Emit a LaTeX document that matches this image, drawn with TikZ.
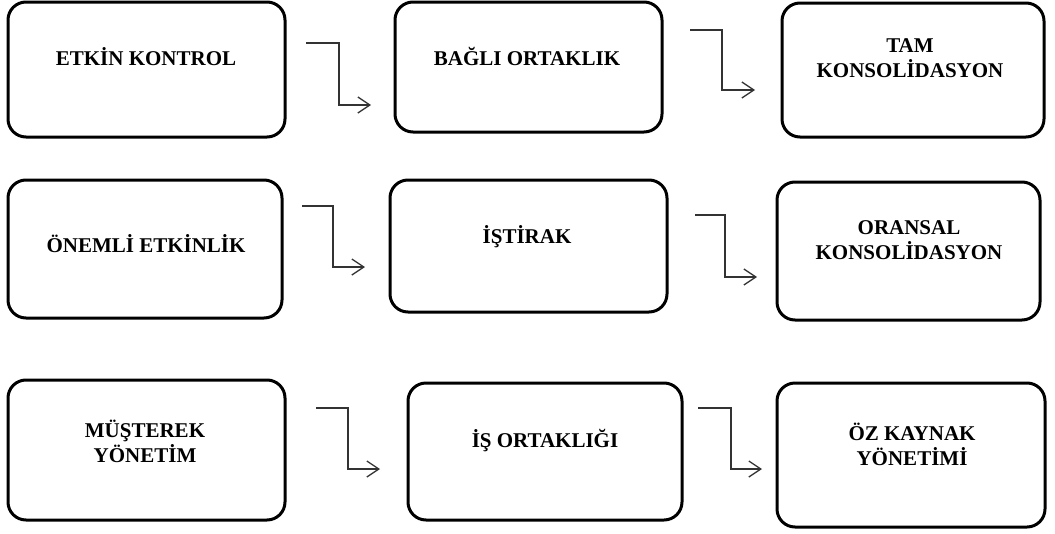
\documentclass[tikz,border=0pt]{standalone}
\usepackage{fontspec}
\setmainfont{Liberation Serif}
\usetikzlibrary{arrows.meta}
\begin{document}
\begin{tikzpicture}[x=1pt,y=-1pt,
  box/.style={draw=black,line width=3pt,rounded corners=18pt,inner sep=0pt,fill=white},
  lbl/.style={font=\bfseries\fontsize{21}{25}\selectfont,align=center,inner sep=0pt,anchor=center},
  conn/.style={draw=black!80,line width=1.3pt,-{Straight Barb[length=12pt,width=16pt,line width=1.3pt]}}]
\useasboundingbox (0,0) rectangle (1055,533);
% boxes
\node[box,minimum width=277pt,minimum height=135pt] (b1) at (146.5,69.5) {};
\node[box,minimum width=267pt,minimum height=130pt] (b2) at (528.5,67) {};
\node[box,minimum width=262pt,minimum height=134pt] (b3) at (913,70) {};
\node[box,minimum width=274pt,minimum height=138pt] (b4) at (145,249) {};
\node[box,minimum width=277pt,minimum height=132pt] (b5) at (528.5,246) {};
\node[box,minimum width=263pt,minimum height=138pt] (b6) at (908.5,251) {};
\node[box,minimum width=277pt,minimum height=140pt] (b7) at (146.5,450) {};
\node[box,minimum width=274pt,minimum height=137pt] (b8) at (545,451.5) {};
\node[box,minimum width=268pt,minimum height=144pt] (b9) at (911,455) {};
% labels
\node[lbl] (t1) at (146,57) {ETKİN KONTROL};
\node[lbl] (t2) at (527,56) {BAĞLI ORTAKLIK};
\node[lbl] (t3) at (910,58.5) {TAM\\KONSOLİDASYON};
\node[lbl] (t4) at (146,244) {ÖNEMLİ ETKİNLİK};
\node[lbl] (t5) at (527,237) {İŞTİRAK};
\node[lbl] (t6) at (909,240.5) {ORANSAL\\KONSOLİDASYON};
\node[lbl] (t7) at (145,441.5) {MÜŞTEREK\\YÖNETİM};
\node[lbl] (t8) at (545,441) {İŞ ORTAKLIĞI};
\node[lbl] (t9) at (912,444) {ÖZ KAYNAK\\YÖNETİMİ};
% connector end points
\coordinate (a1s) at (306,43);  \coordinate (a1e) at (371,105);
\coordinate (a2s) at (690,30);  \coordinate (a2e) at (755,90);
\coordinate (a3s) at (302,206); \coordinate (a3e) at (365,267);
\coordinate (a4s) at (695,215); \coordinate (a4e) at (757,277);
\coordinate (a5s) at (316,408); \coordinate (a5e) at (380,469);
\coordinate (a6s) at (698,408); \coordinate (a6e) at (762,469);
% connectors
\draw[conn] (a1s) -- (339,43) -- (339,105) -- (a1e);
\draw[conn] (a2s) -- (722,30) -- (722,90) -- (a2e);
\draw[conn] (a3s) -- (333,206) -- (333,267) -- (a3e);
\draw[conn] (a4s) -- (725,215) -- (725,277) -- (a4e);
\draw[conn] (a5s) -- (348,408) -- (348,469) -- (a5e);
\draw[conn] (a6s) -- (731,408) -- (731,469) -- (a6e);
\end{tikzpicture}
\end{document}
